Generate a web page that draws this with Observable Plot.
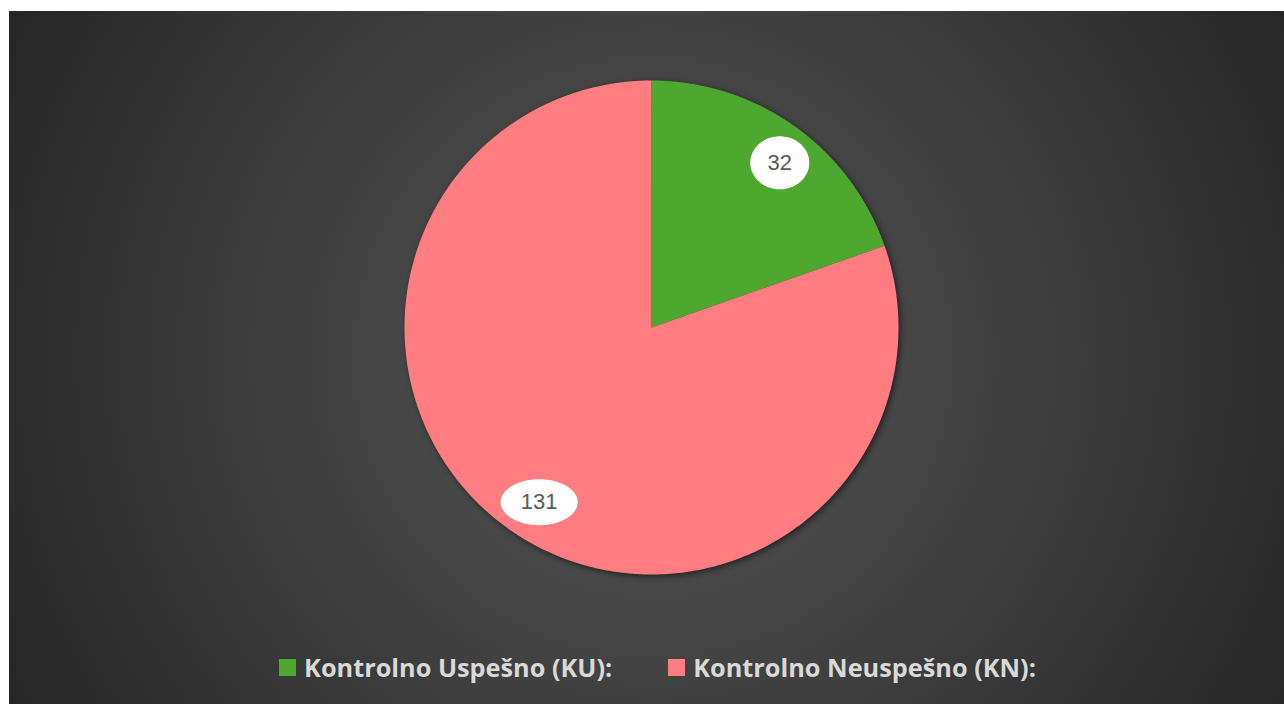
<!DOCTYPE html>
<html><head><meta charset="utf-8">
<script src="https://cdn.jsdelivr.net/npm/d3@7"></script>
<script src="https://cdn.jsdelivr.net/npm/@observablehq/plot@0.6"></script>
<style>
html,body{margin:0;padding:0;background:#fff;overflow:hidden;}
#frame{position:absolute;left:9px;top:11px;width:1275px;height:693px;
  background:radial-gradient(circle farthest-corner at 50.5% 50%, #585858 0%, #262626 100%);overflow:hidden;}
#chart svg{display:block;}
#legend{position:absolute;left:0;top:638px;width:1275px;height:36px;display:flex;justify-content:center;align-items:center;gap:56px;
  font-family:"Open Sans",sans-serif;font-weight:700;font-size:25.3px;color:#d9d9d9;padding-left:22px;box-sizing:border-box;}
.item{display:flex;align-items:center;gap:8px;}
.sw{width:17px;height:17px;display:inline-block;}
</style></head>
<body>
<div id="frame"><div id="chart"></div><div id="legend"></div></div>
<script>
const categories = ["Kontrolno Uspešno (KU):", "Kontrolno Neuspešno (KN):"];
const values = [32, 131];
const colors = ["#4EA72E", "#FF7C80"];

const R = 247;          // pie radius in px
const labelR = 208;     // label distance from center
const W = 1275, H = 630, CX = 642, CY = 316;

const pie = d3.pie().sort(null).value(d => d.value);
const arcs = pie(categories.map((c, i) => ({key: c, value: values[i]})));

const slicePts = [];
for (const a of arcs) {
  slicePts.push({key: a.data.key, x: 0, y: 0});
  const n = Math.max(4, Math.ceil((a.endAngle - a.startAngle) / 0.005));
  for (let k = 0; k <= n; k++) {
    const t = a.startAngle + (a.endAngle - a.startAngle) * k / n;
    slicePts.push({key: a.data.key, x: R * Math.sin(t), y: R * Math.cos(t)});
  }
}
const labels = arcs.map(a => {
  const m = (a.startAngle + a.endAngle) / 2;
  const txt = String(a.data.value);
  return {key: a.data.key, text: txt,
          x: labelR * Math.sin(m) + 8,
          y: labelR * Math.cos(m) - 5,
          rx: 11.5 + 9 * txt.length, ry: 33.5 - 3.5 * txt.length};
});
const ellPts = [];
for (const l of labels) {
  for (let k = 0; k <= 120; k++) {
    const t = 2 * Math.PI * k / 120;
    ellPts.push({key: l.key, x: l.x + l.rx * Math.cos(t), y: l.y + l.ry * Math.sin(t)});
  }
}

const plot = Plot.plot({
  width: W, height: H, margin: 0,
  style: {background: "transparent", overflow: "visible"},
  x: {domain: [-CX, W - CX], axis: null},
  y: {domain: [-(H - CY), CY], axis: null},
  color: {domain: categories, range: colors},
  marks: [
    Plot.line(slicePts, {x: "x", y: "y", z: "key", fill: "key", stroke: "none", curve: "linear-closed"}),
    Plot.line(ellPts, {x: "x", y: "y", z: "key", fill: "white", stroke: "none", curve: "linear-closed"}),
    Plot.text(labels, {x: "x", y: "y", text: "text", fill: "#595959", fontSize: 22,
      fontFamily: "Liberation Sans, Arial, sans-serif"})
  ]
});
document.getElementById("chart").appendChild(plot);
const pg = plot.querySelector('g[aria-label="line"]');
if (pg) pg.style.filter = "drop-shadow(2px 2px 3px rgba(0,0,0,0.55))";

const leg = document.getElementById("legend");
categories.forEach((c, i) => {
  const it = document.createElement("div"); it.className = "item";
  const sw = document.createElement("span"); sw.className = "sw"; sw.style.background = colors[i];
  const tx = document.createElement("span"); tx.textContent = c;
  it.appendChild(sw); it.appendChild(tx); leg.appendChild(it);
});
</script>
</body></html>
